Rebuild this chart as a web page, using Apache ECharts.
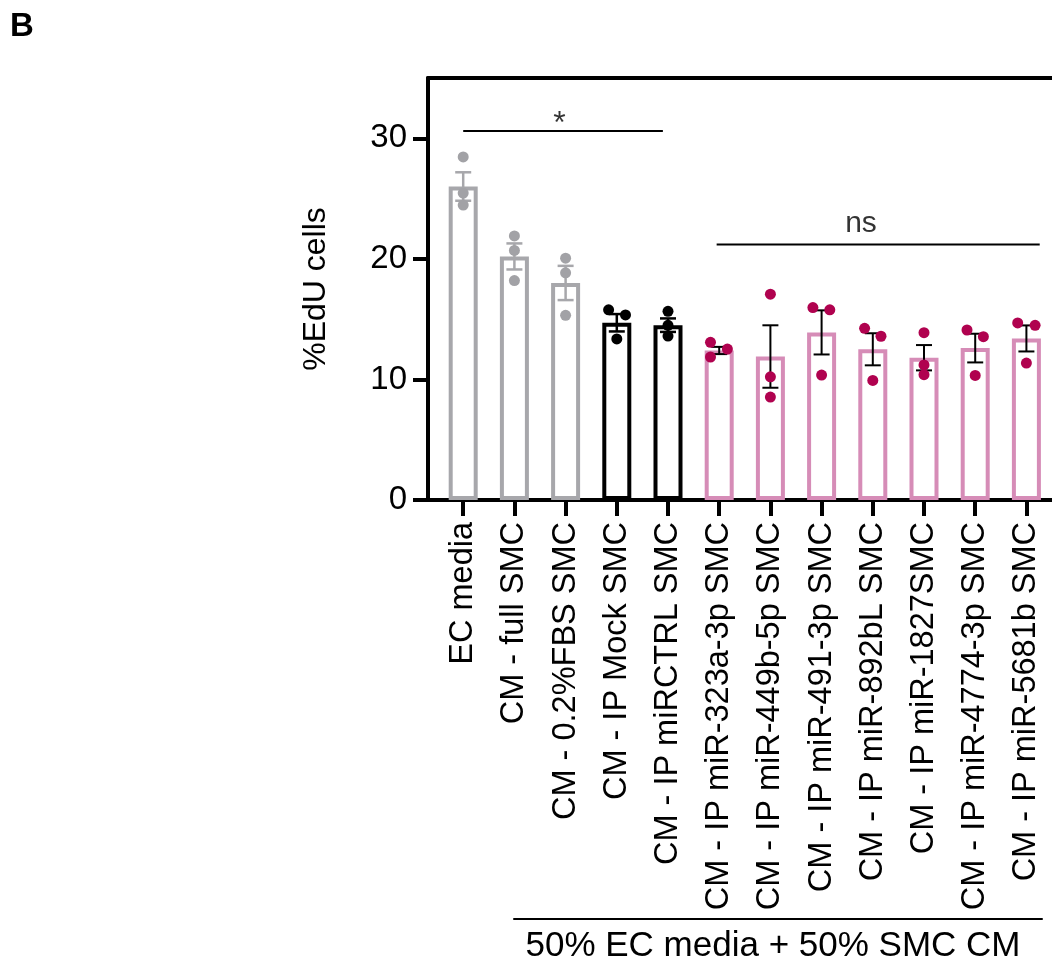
<!DOCTYPE html>
<html>
<head>
<meta charset="utf-8">
<script src="https://cdn.jsdelivr.net/npm/echarts@6/dist/echarts.min.js"></script>
<style>
  html, body { margin: 0; padding: 0; background: #fff; }
  #chart { width: 1052px; height: 965px; }
</style>
</head>
<body>
<div id="chart"></div>
<script>
var chart = echarts.init(document.getElementById('chart'));

// data
const categories = [
  'EC media', 'CM - full SMC', 'CM - 0.2%FBS SMC', 'CM - IP Mock SMC', 'CM - IP miRCTRL SMC',
  'CM - IP miR-323a-3p SMC', 'CM - IP miR-449b-5p SMC', 'CM - IP miR-491-3p SMC',
  'CM - IP miR-892bL SMC', 'CM - IP miR-1827SMC', 'CM - IP miR-4774-3p SMC', 'CM - IP miR-5681b SMC'
];
const groupOf = [0, 0, 0, 1, 1, 2, 2, 2, 2, 2, 2, 2];
const means = [26.0, 20.2, 18.0, 14.7, 14.5, 12.4, 11.9, 13.9, 12.5, 11.8, 12.6, 13.4];
const sems = [1.18, 1.08, 1.42, 0.72, 0.56, 0.3, 2.59, 1.83, 1.33, 1.05, 1.19, 1.08];
const replicates = [
  [28.45, 25.46, 24.46],
  [21.9, 20.7, 18.2],
  [20.06, 18.84, 15.32],
  [15.77, 15.35, 13.36],
  [15.65, 14.49, 13.6],
  [13.08, 12.52, 11.86],
  [17.07, 10.22, 8.54],
  [15.96, 15.77, 10.36],
  [14.24, 13.58, 9.92],
  [13.88, 11.2, 10.39],
  [14.1, 13.55, 10.33],
  [14.69, 14.49, 11.36]
];
// horizontal spread of the dots, in category units
const jitter = [
  [0, 0, 0], [0, 0, 0], [0, 0, 0], [-0.16, 0.17, 0], [0, 0, 0],
  [-0.17, 0.16, -0.17], [0, 0, 0], [-0.17, 0.16, 0], [-0.16, 0.16, 0],
  [0, 0, 0], [-0.16, 0.16, 0], [-0.17, 0.17, 0]
];
const yTicks = [0, 10, 20, 30];
// significance brackets: [x start, x end, y, text, text x]
const starBracket = [0, 3.9, 30.6, '*', 1.88];
const nsBracket = [4.95, 11.26, 21.2, 'ns', 7.77];
const groupLabel = '50% EC media + 50% SMC CM';

const barColors = ['#A7A7AB', '#000000', '#D68CB7'];
const dotColors = ['#A2A2A6', '#000000', '#B0024F'];
const errColors = ['#A7A7AB', '#000000', '#000000'];
const FONT = 'Liberation Sans';

var barData = means.map((m, i) => ({
  value: m,
  itemStyle: { color: '#fff', borderColor: barColors[groupOf[i]], borderWidth: 4 }
}));

var errData = means.map((m, i) => [i, m - sems[i], m + sems[i]]);

var dotData = [];
replicates.forEach((vals, i) => {
  vals.forEach((v, k) => {
    dotData.push({ value: [i + jitter[i][k], v], itemStyle: { color: dotColors[groupOf[i]], opacity: 1 } });
  });
});

const renderErr = (params, api) => {
  var x = api.value(0);
  var lo = api.coord([x, api.value(1)]);
  var hi = api.coord([x, api.value(2)]);
  var g = groupOf[params.dataIndex];
  var st = { stroke: errColors[g], lineWidth: g === 2 ? 2 : 2.5 };
  var w = 8;
  return {
    type: 'group',
    children: [
      { type: 'line', shape: { x1: hi[0], y1: hi[1], x2: lo[0], y2: lo[1] }, style: st },
      { type: 'line', shape: { x1: hi[0] - w, y1: hi[1], x2: hi[0] + w, y2: hi[1] }, style: st },
      { type: 'line', shape: { x1: lo[0] - w, y1: lo[1], x2: lo[0] + w, y2: lo[1] }, style: st }
    ]
  };
};

const bracketSeries = (b, dist, size) => [
  {
    type: 'line',
    xAxisIndex: 3,
    yAxisIndex: 1,
    symbol: 'none',
    silent: true,
    lineStyle: { color: '#000', width: 2 },
    data: [[b[0], b[2]], [b[1], b[2]]],
    z: 5
  },
  {
    type: 'scatter',
    xAxisIndex: 3,
    yAxisIndex: 1,
    symbolSize: 0,
    silent: true,
    data: [[b[4], b[2]]],
    label: {
      show: true,
      position: 'top',
      distance: dist,
      formatter: b[3],
      color: '#000',
      fontSize: size,
      fontFamily: FONT
    }
  }
];

var option = {
  animation: false,
  title: {
    text: 'B',
    left: 5,
    top: 5,
    textStyle: { fontSize: 33, fontWeight: 'bold', color: '#000', fontFamily: FONT }
  },
  grid: [
    { left: 428, right: 0, top: 78, bottom: 465 },
    { left: 437.6, width: 616.8, top: 78, bottom: 465 },
    { left: 514, right: 10, top: 918, height: 1 }
  ],
  xAxis: [
    {
      gridIndex: 0, type: 'value', min: 0, max: 1, position: 'bottom',
      axisLine: { show: true, lineStyle: { color: '#000', width: 4 } },
      axisTick: { show: false }, axisLabel: { show: false }, splitLine: { show: false }
    },
    {
      gridIndex: 0, type: 'value', min: 0, max: 1, position: 'top',
      axisLine: { show: true, lineStyle: { color: '#000', width: 4 } },
      axisTick: { show: false }, axisLabel: { show: false }, splitLine: { show: false }
    },
    {
      gridIndex: 1, type: 'category', data: categories, position: 'bottom',
      axisLine: { show: false },
      axisTick: { show: true, alignWithLabel: true, length: 16, lineStyle: { color: '#000', width: 4 } },
      axisLabel: {
        rotate: 90, interval: 0, margin: 22,
        fontSize: 32.5, color: '#000', fontFamily: FONT
      }
    },
    {
      gridIndex: 1, type: 'value', min: -0.5, max: 11.5, show: false
    },
    {
      gridIndex: 2, type: 'value', min: 0, max: 1, position: 'bottom',
      axisLine: { show: true, lineStyle: { color: '#000', width: 2 } },
      axisTick: { show: false }, axisLabel: { show: false }, splitLine: { show: false },
      name: groupLabel,
      nameLocation: 'middle',
      nameGap: 10,
      nameTextStyle: { fontSize: 35, color: '#000', fontFamily: FONT, padding: [0, 10, 0, 0] }
    }
  ],
  yAxis: [
    {
      gridIndex: 0, type: 'value', min: 0, max: 35,
      axisLine: { show: true, lineStyle: { color: '#000', width: 4 } },
      axisTick: { show: true, length: 15, customValues: yTicks, lineStyle: { color: '#000', width: 4 } },
      axisLabel: { margin: 21, fontSize: 33, color: '#000', fontFamily: FONT, customValues: yTicks },
      splitLine: { show: false },
      name: '%EdU cells',
      nameLocation: 'middle',
      nameRotate: 90,
      nameGap: 96,
      nameTextStyle: { fontSize: 32, color: '#000', fontFamily: FONT }
    },
    { gridIndex: 1, type: 'value', min: 0, max: 35, show: false },
    { gridIndex: 2, type: 'value', min: 0, max: 1, show: false }
  ],
  series: [
    {
      type: 'bar',
      xAxisIndex: 2,
      yAxisIndex: 1,
      barWidth: 29,
      data: barData,
      silent: true,
      z: 2
    },
    {
      type: 'custom',
      xAxisIndex: 3,
      yAxisIndex: 1,
      renderItem: renderErr,
      data: errData,
      silent: true,
      z: 3
    },
    {
      type: 'scatter',
      xAxisIndex: 3,
      yAxisIndex: 1,
      symbolSize: 11,
      data: dotData,
      silent: true,
      z: 4
    },
    ...bracketSeries(starBracket, -9, 32),
    ...bracketSeries(nsBracket, 6, 30)
  ]
};

chart.setOption(option);
</script>
</body>
</html>
